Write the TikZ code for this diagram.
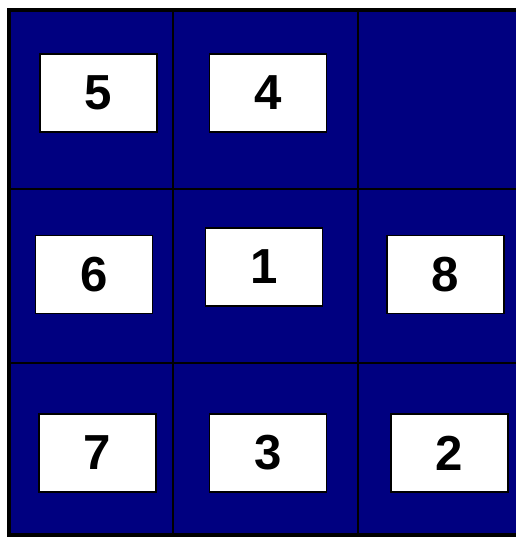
\documentclass[tikz,border=0pt]{standalone}
\usepackage{fontspec}
\setmainfont{Liberation Sans}
\definecolor{boardblue}{RGB}{0,0,128}

\begin{document}
\begin{tikzpicture}[
  x=0.02cm, y=-0.02cm,
  tile/.style={draw, fill=white, line width=0.8pt, inner sep=0pt,
               minimum width=2.34cm, minimum height=1.56cm,
               font=\fontsize{28}{30}\selectfont\bfseries},
  gridline/.style={line width=1.3pt}
]
\useasboundingbox (0,0) rectangle (516,537);
\clip (0,0) rectangle (516,537);
% board
\fill[boardblue] (9,10) rectangle (545,535);
\draw[gridline] (173,10) -- (173,535);
\draw[gridline] (358,10) -- (358,535);
\draw[gridline] (9,189) -- (545,189);
\draw[gridline] (9,363) -- (545,363);
\draw[line width=2.6pt] (9,10) rectangle (545,535);
% tiles
\node[tile] (t5) at (98.5,93) {5};
\node[tile] (t4) at (268,93) {4};
\node[tile] (t6) at (94,274.5) {6};
\node[tile] (t1) at (264,267) {1};
\node[tile] (t8) at (445.5,274.5) {8};
\node[tile] (t7) at (97.5,453) {7};
\node[tile] (t3) at (268,453) {3};
\node[tile] (t2) at (449.5,453) {2};
\end{tikzpicture}
\end{document}
